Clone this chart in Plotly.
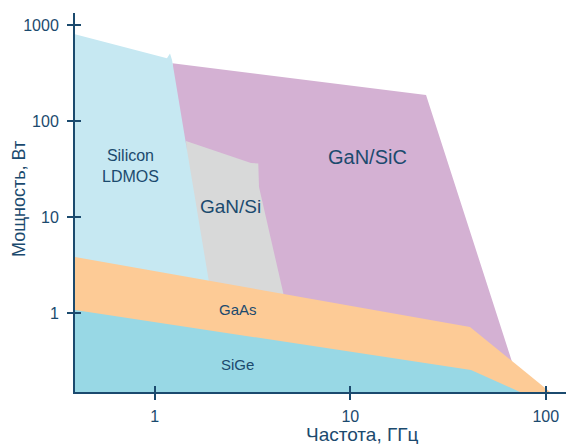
import numpy as np
import plotly.graph_objects as go

# ---- data (frequency in GHz, power in W) ----
ldmos_f = [0.39, 1.154, 1.196, 1.225, 1.96, 0.39]
ldmos_p = [800, 450, 505, 432, 1.37, 1.37]

gansic_f = [1.229, 24.4, 67.2, 46.1, 1.61]
gansic_p = [399, 187, 0.309, 0.41, 1.37]

gansi_f = [1.444, 3.105, 3.383, 3.412, 4.543, 4.58, 1.61]
gansi_p = [61.9, 36.5, 36.1, 20.5, 1.604, 1.37, 1.37]

gaas_f = [0.39, 40.96, 105.1, 0.39]
gaas_p = [3.83, 0.715, 0.1503, 0.1503]

sige_f = [0.39, 41.45, 73.8, 0.39]
sige_p = [1.075, 0.255, 0.1503, 0.1503]

region_names = ["Silicon<br>LDMOS", "GaN/SiC", "GaN/Si", "GaAs", "SiGe"]
label_f = [0.755, 12.3, 2.45, 2.666, 2.634]
label_p = [34.0, 42.2, 13.0, 1.10, 0.294]
label_size = [16, 20, 19, 15, 15]

x_ticks = [1, 10, 100]
x_tick_text = ["1", "10", "100"]
y_ticks = [1, 10, 100, 1000]
y_tick_text = ["1", "10", "100", "1000"]

x_title = "Частота, ГГц"
y_title = "Мощность, Вт"

x_range = [-0.4082, 2.1442]
y_range = [-0.823, 3.125]

NAVY = "#1B4A6E"
FONT = "Liberation Sans, Arial, sans-serif"

fig = go.Figure()
regions = [
    (gansic_f, gansic_p, "#D4B1D3"),
    (gansi_f, gansi_p, "#D8D9D9"),
    (ldmos_f, ldmos_p, "#C6E8F2"),
    (gaas_f, gaas_p, "#FDCB96"),
    (sige_f, sige_p, "#98D8E5"),
]
for f, p, c in regions:
    fig.add_trace(go.Scatter(x=f, y=p, mode="lines", fill="toself", fillcolor=c,
                             line=dict(width=0, color=c), hoverinfo="skip",
                             showlegend=False))

# empty trace so the overlay axes (inner half of the crossing ticks) are drawn
fig.add_trace(go.Scatter(x=[], y=[], xaxis="x2", yaxis="y2", showlegend=False,
                         hoverinfo="skip"))

for name, f, p, s in zip(region_names, label_f, label_p, label_size):
    fig.add_annotation(x=np.log10(f), y=np.log10(p), text=name, showarrow=False,
                       font=dict(size=s, color=NAVY, family=FONT))

fig.add_annotation(xref="paper", yref="paper", x=(362 - 75) / 499, y=-(434 - 392) / 379,
                   xanchor="center", yanchor="middle",
                   text=x_title, showarrow=False,
                   font=dict(size=19, color=NAVY, family=FONT))
fig.add_annotation(xref="paper", yref="paper", x=-(75 - 19) / 499, y=(392 - 199) / 379,
                   xanchor="center", yanchor="middle",
                   text=y_title, showarrow=False, textangle=-90,
                   font=dict(size=18, color=NAVY, family=FONT))

axis_common = dict(showgrid=False, zeroline=False, linecolor=NAVY, linewidth=2,
                   tickcolor=NAVY, tickwidth=2, ticklen=6,
                   tickfont=dict(size=16, color=NAVY, family=FONT))

# page body has an 8px margin, so the figure is drawn 8px smaller
fig.update_layout(
    width=566, height=436,
    margin=dict(l=67, r=0, t=5, b=52, autoexpand=False),
    paper_bgcolor="white", plot_bgcolor="white",
    xaxis=dict(type="log", range=x_range, tickvals=x_ticks, ticktext=x_tick_text,
               ticks="outside", showline=True, ticklabelstandoff=3, **axis_common),
    yaxis=dict(type="log", range=y_range, tickvals=y_ticks, ticktext=y_tick_text,
               ticks="outside", showline=True, ticklabelstandoff=5, **axis_common),
    xaxis2=dict(type="log", range=x_range, tickvals=x_ticks, overlaying="x", anchor="y",
                side="bottom", ticks="inside", showticklabels=False, showline=False,
                showgrid=False, zeroline=False, tickcolor=NAVY, tickwidth=2, ticklen=6),
    yaxis2=dict(type="log", range=y_range, tickvals=y_ticks, overlaying="y", anchor="x",
                side="left", ticks="inside", showticklabels=False, showline=False,
                showgrid=False, zeroline=False, tickcolor=NAVY, tickwidth=2, ticklen=6),
    font=dict(family=FONT, color=NAVY),
)

fig.write_html("out.html")
